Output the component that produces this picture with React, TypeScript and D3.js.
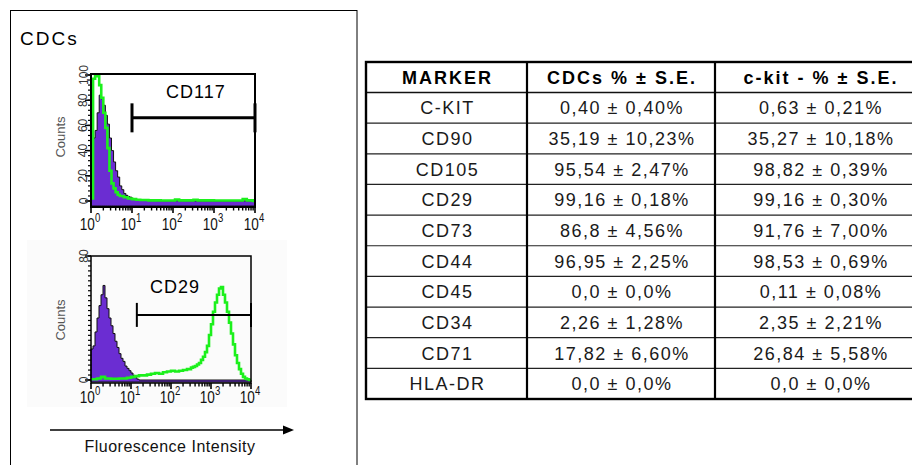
import React from "react";
import * as d3 from "d3";

const FONT = "'Liberation Sans', Arial, Helvetica, sans-serif";
const PURPLE = "#6b2dd2";
const GREEN = "#1cf01c";

// ---- Marker table ----
const headers = ["MARKER", "CDCs % ± S.E.", "c-kit - % ± S.E."];
const markers = ["C-KIT", "CD90", "CD105", "CD29", "CD73", "CD44", "CD45", "CD34", "CD71", "HLA-DR"];
const cdcValues = [
  "0,40 ± 0,40%", "35,19 ± 10,23%", "95,54 ± 2,47%", "99,16 ± 0,18%", "86,8 ± 4,56%",
  "96,95 ± 2,25%", "0,0 ± 0,0%", "2,26 ± 1,28%", "17,82 ± 6,60%", "0,0 ± 0,0%",
];
const ckitValues = [
  "0,63 ± 0,21%", "35,27 ± 10,18%", "98,82 ± 0,39%", "99,16 ± 0,30%", "91,76 ± 7,00%",
  "98,53 ± 0,69%", "0,11 ± 0,08%", "2,35 ± 2,21%", "26,84 ± 5,58%", "0,0 ± 0,0%",
];

// ---- Histograms: bin starts in log10 decades, counts per bin ----
const decadeTicks = [1, 10, 100, 1000, 10000];

const cd117IsotypeBins = [0, 0.05, 0.1, 0.15, 0.2, 0.25, 0.3, 0.35, 0.4, 0.45, 0.5, 0.55, 0.6, 0.65, 0.7, 0.75, 0.8, 0.85, 0.9, 0.95, 1.0, 1.05, 1.1, 1.2, 1.3, 1.4, 1.6, 2.0, 2.5, 3.0, 3.5, 3.95];
const cd117IsotypeCounts = [45, 50, 56, 70, 84, 81, 76, 68, 61, 50, 40, 31, 24, 19, 12, 9, 6, 4.5, 3.5, 3, 2, 1.5, 1, 0.8, 0.5, 0.3, 0.2, 0.2, 0.1, 0.1, 0.1, 0];
const cd117StainedBins = [0, 0.05, 0.1, 0.15, 0.2, 0.25, 0.3, 0.35, 0.4, 0.45, 0.5, 0.55, 0.6, 0.65, 0.7, 0.8, 0.9, 1.0, 1.1, 1.2, 1.4, 1.7, 2.05, 2.15, 2.5, 2.6, 3.0, 3.7, 3.8, 3.95];
const cd117StainedCounts = [2, 97, 100, 99, 92, 82, 70, 58, 42, 24, 14, 10, 7, 5, 4, 3, 2, 1.5, 1, 0.8, 0.5, 0.4, 1.2, 0.5, 1, 0.5, 0.4, 1.5, 0.5, 0];
const cd117CountTicks = [0, 20, 40, 60, 80, 100];
const cd117Gate = [10, 10000];
const cd117GateLevel = 66;

const cd29IsotypeBins = [0, 0.05, 0.1, 0.15, 0.2, 0.25, 0.3, 0.35, 0.4, 0.45, 0.5, 0.55, 0.6, 0.65, 0.7, 0.75, 0.8, 0.85, 0.9, 0.95, 1.0, 1.05, 1.1, 1.15, 1.2];
const cd29IsotypeCounts = [20, 22, 31, 40, 48, 55, 61, 53, 46, 40, 35, 30, 25, 21, 17, 14, 12, 9, 7.5, 6, 4.5, 3, 1.5, 0.5, 0];
const cd29StainedBins = [0, 0.15, 0.25, 0.35, 0.5, 0.7, 0.9, 1.0, 1.1, 1.2, 1.3, 1.4, 1.5, 1.6, 1.7, 1.8, 1.9, 2.0, 2.1, 2.2, 2.3, 2.4, 2.5, 2.55, 2.6, 2.65, 2.7, 2.75, 2.8, 2.85, 2.9, 2.95, 3.0, 3.05, 3.1, 3.15, 3.2, 3.25, 3.3, 3.35, 3.4, 3.45, 3.5, 3.55, 3.6, 3.65, 3.7, 3.75, 3.8, 3.85, 3.9, 3.95];
const cd29StainedCounts = [0.5, 1, 2, 1, 0.8, 1, 1.5, 2, 2.5, 3, 3, 3.5, 4, 4.5, 4, 5, 5.5, 6, 5.5, 6, 6.5, 7, 8, 8.5, 9, 10, 11, 13, 15, 18, 22, 29, 36, 44, 50, 55, 59, 60, 55, 50, 44, 37, 30, 23, 16, 11, 7, 4, 2, 1, 0.5, 0];
const cd29CountTicks = [0, 80];
const cd29Gate = [14, 10000];
const cd29GateLevel = 42;

type PanelProps = {
  left: number; right: number; frameTop: number; zeroY: number; frameBottom: number;
  yMax: number; yMaxPx: number; minorStep: number;
  isoBins: number[]; isoCounts: number[]; stBins: number[]; stCounts: number[];
  countTicks: number[]; gate: number[]; gateLevel: number; gateHalf: number; gateWidth: number;
  frameWidth: number; tickLabelY: number; countsY: number;
  label: string; labelX: number; labelY: number;
};

function Histogram(p: PanelProps) {
  const x = d3.scaleLog().domain([1, 10000]).range([p.left, p.right]);
  const y = d3.scaleLinear().domain([0, p.yMax]).range([p.zeroY, p.yMaxPx]);
  const toPts = (bins: number[], counts: number[]) =>
    bins.map((b, i) => [Math.pow(10, b), counts[i]] as [number, number]).concat([[10000, 0]]);

  const area = d3.area<[number, number]>()
    .x((d) => x(d[0]))
    .y0(p.frameBottom - 1)
    .y1((d) => y(d[1]))
    .curve(d3.curveStepAfter);
  const line = d3.line<[number, number]>()
    .x((d) => x(d[0]))
    .y((d) => y(d[1]))
    .curve(d3.curveStepAfter);

  const iso = toPts(p.isoBins, p.isoCounts);
  const st = toPts(p.stBins, p.stCounts);

  const minorY = d3.range(0, p.yMax + 0.001, p.minorStep);
  const minorX: number[] = [];
  for (let dec = 1; dec < 10000; dec *= 10) for (let k = 2; k <= 9; k++) minorX.push(dec * k);

  const gx0 = x(p.gate[0]);
  const gx1 = x(p.gate[1]);
  const gy = y(p.gateLevel);

  return (
    <g>
      {/* purple isotype control, filled */}
      <path d={area(iso) || ""} fill={PURPLE} stroke="#111" strokeWidth={1} />
      {/* green stained sample */}
      <path d={line(st) || ""} fill="none" stroke={GREEN} strokeWidth={2.6} />

      {/* frame */}
      <rect x={p.left} y={p.frameTop} width={p.right - p.left} height={p.frameBottom - p.frameTop}
        fill="none" stroke="#000" strokeWidth={p.frameWidth} />

      {/* count axis ticks */}
      {minorY.map((v) => (
        <line key={"my" + v} x1={p.left - 3} x2={p.left} y1={y(v)} y2={y(v)} stroke="#000" strokeWidth={1.2} />
      ))}
      {p.countTicks.map((v) => (
        <g key={"cy" + v}>
          <line x1={p.left - 6} x2={p.left} y1={y(v)} y2={y(v)} stroke="#000" strokeWidth={1.5} />
          <text x={87.5} y={y(v)} transform={`rotate(-90, 87.5, ${y(v)})`} textAnchor="middle"
            fontFamily={FONT} fontSize={12} fill="#333">{v}</text>
        </g>
      ))}
      <text x={65} y={p.countsY} transform={`rotate(-90, 65, ${p.countsY})`} textAnchor="middle"
        fontFamily={FONT} fontSize={13} fill="#555">Counts</text>

      {/* intensity axis ticks */}
      {minorX.map((v) => (
        <line key={"mx" + v} x1={x(v)} x2={x(v)} y1={p.frameBottom} y2={p.frameBottom + 3.5} stroke="#000" strokeWidth={1.4} />
      ))}
      {decadeTicks.map((v, i) => (
        <g key={"dx" + v}>
          <line x1={x(v)} x2={x(v)} y1={p.frameBottom} y2={p.frameBottom + 6} stroke="#000" strokeWidth={1.6} />
          <g transform={`translate(${x(v) - 1},${p.tickLabelY}) scale(0.8,1)`}>
            <text textAnchor="middle" fontFamily={FONT} fontSize={17} fill="#111">
              10<tspan dy={-8} fontSize={12}>{i}</tspan>
            </text>
          </g>
        </g>
      ))}

      {/* positive gate */}
      <g stroke="#000" strokeWidth={p.gateWidth}>
        <line x1={gx0} x2={gx1} y1={gy} y2={gy} />
        <line x1={gx0} x2={gx0} y1={gy - p.gateHalf} y2={gy + p.gateHalf} />
        <line x1={gx1} x2={gx1} y1={gy - p.gateHalf} y2={gy + p.gateHalf} />
      </g>
      <text x={p.labelX} y={p.labelY} fontFamily={FONT} fontSize={18} letterSpacing={1} fill="#000">{p.label}</text>
    </g>
  );
}

function MarkerTable() {
  const colEdges = [366, 527, 715, 925];
  const top = 62;
  const headerBottom = 92.5;
  const bottom = 399;
  const rowH = (bottom - headerBottom) / markers.length;
  const rows = markers.map((m, i) => [m, cdcValues[i], ckitValues[i]]);
  const colCenter = (c: number) => (colEdges[c] + colEdges[c + 1]) / 2;

  return (
    <g>
      <rect x={colEdges[0]} y={top} width={colEdges[3] - colEdges[0]} height={bottom - top} fill="#fff" />
      {headers.map((h, c) => (
        <text key={h} x={colCenter(c) + 1} y={(top + headerBottom) / 2 + 6.5} textAnchor="middle"
          fontFamily={FONT} fontSize={18} fontWeight="bold" letterSpacing={2} fill="#000">{h}</text>
      ))}
      {rows.map((r, i) => {
        const cy = headerBottom + rowH * (i + 0.5);
        return r.map((t, c) => (
          <text key={i + "-" + c} x={colCenter(c) + 1} y={cy + 6.5} textAnchor="middle"
            fontFamily={FONT} fontSize={18} letterSpacing={1.5} fill="#1a1a1a">{t}</text>
        ));
      })}
      {/* row separators */}
      <line x1={colEdges[0]} x2={colEdges[3]} y1={headerBottom} y2={headerBottom} stroke="#111" strokeWidth={1.6} />
      {d3.range(1, markers.length).map((i) => (
        <line key={"r" + i} x1={colEdges[0]} x2={colEdges[3]} y1={headerBottom + rowH * i} y2={headerBottom + rowH * i}
          stroke="#222" strokeWidth={1.2} />
      ))}
      {/* column separators */}
      {[1, 2].map((c) => (
        <line key={"c" + c} x1={colEdges[c]} x2={colEdges[c]} y1={top} y2={bottom} stroke="#000" strokeWidth={2.2} />
      ))}
      <rect x={colEdges[0]} y={top} width={colEdges[3] - colEdges[0]} height={bottom - top}
        fill="none" stroke="#000" strokeWidth={2.4} />
    </g>
  );
}

export default function App() {
  return (
    <div style={{ position: "absolute", left: 0, top: 0, width: 912, height: 465, background: "#fff" }}>
      <svg width={912} height={465} viewBox="0 0 912 465" style={{ display: "block" }}>
        <rect width={912} height={465} fill="#fff" />
        {/* left panel */}
        <rect x={10.5} y={10.5} width={346.5} height={470} fill="none" stroke="#000" strokeWidth={1} />
        <text x={20} y={45} fontFamily={FONT} fontSize={19} letterSpacing={2} fill="#000">CDCs</text>
        <rect x={27} y={240} width={260} height={167} fill="#fbfbfb" />

        <Histogram left={91} right={255} frameTop={74} zeroY={201} frameBottom={207}
          yMax={100} yMaxPx={75} minorStep={4}
          isoBins={cd117IsotypeBins} isoCounts={cd117IsotypeCounts}
          stBins={cd117StainedBins} stCounts={cd117StainedCounts}
          countTicks={cd117CountTicks} gate={cd117Gate} gateLevel={cd117GateLevel}
          gateHalf={14.5} gateWidth={3} frameWidth={2} tickLabelY={230} countsY={137}
          label="CD117" labelX={166} labelY={98} />

        <Histogram left={91} right={251} frameTop={256} zeroY={380} frameBottom={383}
          yMax={80} yMaxPx={256} minorStep={3.2}
          isoBins={cd29IsotypeBins} isoCounts={cd29IsotypeCounts}
          stBins={cd29StainedBins} stCounts={cd29StainedCounts}
          countTicks={cd29CountTicks} gate={cd29Gate} gateLevel={cd29GateLevel}
          gateHalf={12} gateWidth={2} frameWidth={1.5} tickLabelY={403} countsY={320}
          label="CD29" labelX={150} labelY={293} />

        {/* intensity arrow */}
        <line x1={50} x2={284} y1={430} y2={430} stroke="#000" strokeWidth={1.5} />
        <path d="M283,425.5 L294,430 L283,434.5 Z" fill="#000" />
        <text x={170} y={452} textAnchor="middle" fontFamily={FONT} fontSize={16} letterSpacing={0.5} fill="#111">
          Fluorescence Intensity
        </text>

        <MarkerTable />
      </svg>
    </div>
  );
}
